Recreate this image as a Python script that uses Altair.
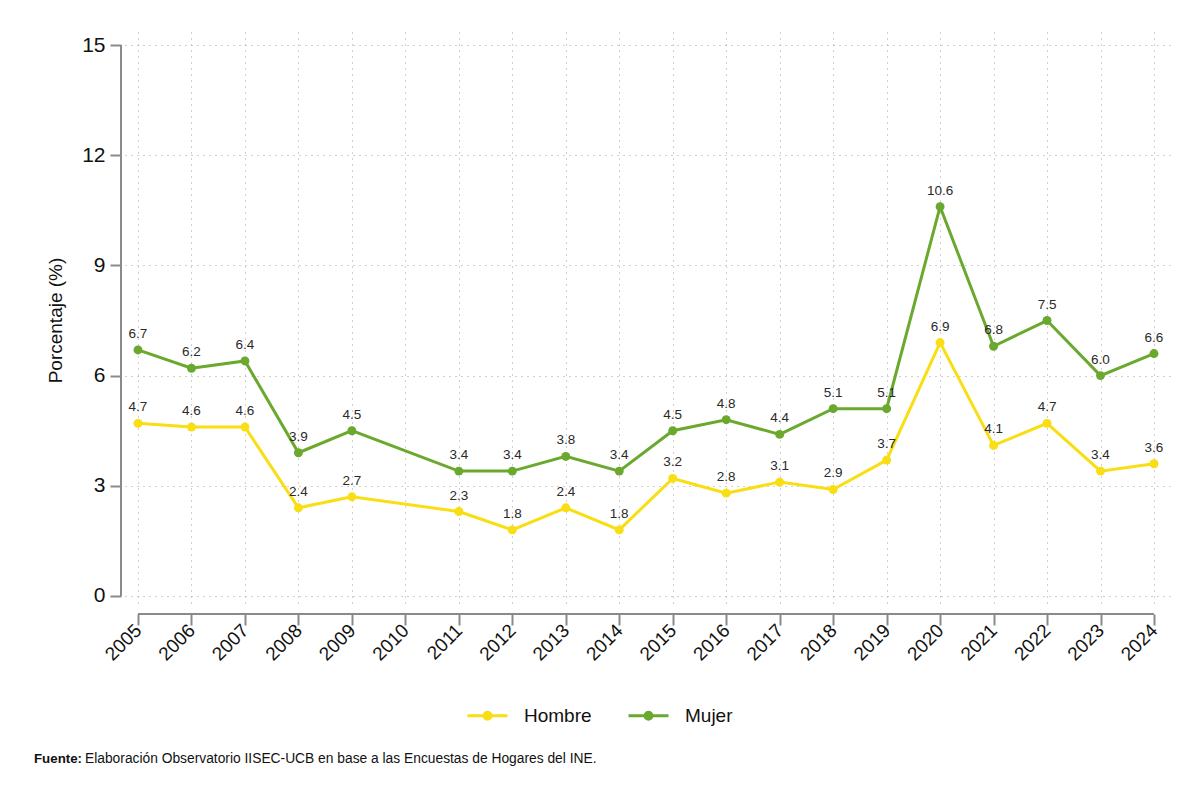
import altair as alt
import pandas as pd

# Survey years (2010 has no survey round)
years = [2005, 2006, 2007, 2008, 2009, 2011, 2012, 2013, 2014, 2015,
         2016, 2017, 2018, 2019, 2020, 2021, 2022, 2023, 2024]
hombre = [4.7, 4.6, 4.6, 2.4, 2.7, 2.3, 1.8, 2.4, 1.8, 3.2,
          2.8, 3.1, 2.9, 3.7, 6.9, 4.1, 4.7, 3.4, 3.6]
mujer = [6.7, 6.2, 6.4, 3.9, 4.5, 3.4, 3.4, 3.8, 3.4, 4.5,
         4.8, 4.4, 5.1, 5.1, 10.6, 6.8, 7.5, 6.0, 6.6]
series = ["Hombre", "Mujer"]
colors = ["#F8DE12", "#6AA92E"]
x_ticks = list(range(2005, 2025))
y_ticks = [0, 3, 6, 9, 12, 15]

df = pd.DataFrame({
    "anio": years * 2,
    "valor": hombre + mujer,
    "sexo": ["Hombre"] * len(years) + ["Mujer"] * len(years),
})
df["etiqueta"] = df["valor"].map(lambda v: f"{v:.1f}")

FONT = "Liberation Sans"
W, H = 1047, 576
AXIS_GRAY = "#8a8a8a"
GRID_GRAY = "#a0a0a0"

x_scale = alt.Scale(domain=[2004.757, 2024.337], nice=False, zero=False)
y_scale = alt.Scale(domain=[-0.327, 15.356], nice=False, zero=False)

color = alt.Color(
    "sexo:N",
    scale=alt.Scale(domain=series, range=colors),
    legend=alt.Legend(
        title=None,
        orient="none",
        legendX=341,
        legendY=662,
        direction="horizontal",
        symbolType="M-1,0H1M-0.08,0a0.08,0.08 0 1,0 0.16,0a0.08,0.08 0 1,0 -0.16,0"
                   "M-0.17,0a0.17,0.17 0 1,0 0.34,0a0.17,0.17 0 1,0 -0.34,0",
        symbolSize=1600,
        symbolStrokeWidth=3,
        labelFontSize=19,
        labelFont=FONT,
        labelColor="#111",
        labelOffset=15,
        columnPadding=30,
        padding=0,
    ),
)

x_enc = alt.X(
    "anio:Q",
    scale=x_scale,
    axis=alt.Axis(
        values=x_ticks, format="d", title=None, domain=False,
        offset=6, tickSize=11, tickWidth=2, tickColor=AXIS_GRAY,
        labelAngle=-45, labelAlign="right", labelBaseline="middle",
        labelPadding=2, labelFontSize=19, labelFont=FONT, labelColor="#111",
        grid=True, gridDash=[1, 5], gridColor=GRID_GRAY, gridWidth=1,
        labelOverlap=False,
    ),
)
y_enc = alt.Y(
    "valor:Q",
    scale=y_scale,
    axis=alt.Axis(
        values=y_ticks, title="Porcentaje (%)", domain=False,
        offset=4, tickSize=11, tickWidth=2, tickColor=AXIS_GRAY,
        labelPadding=5, labelFontSize=21, labelFont=FONT, labelColor="#111",
        titleFontSize=19, titleFont=FONT, titleFontWeight="normal",
        titleColor="#111", titlePadding=16,
        grid=True, gridDash=[1, 5], gridColor=GRID_GRAY, gridWidth=1,
    ),
)

base = alt.Chart(df)

lines = base.mark_line(strokeWidth=3).encode(x=x_enc, y=y_enc, color=color)
points = base.mark_circle(size=80, opacity=1).encode(
    x="anio:Q", y="valor:Q",
    color=alt.Color("sexo:N", scale=alt.Scale(domain=series, range=colors), legend=None),
)
labels = base.mark_text(dy=-16, fontSize=13.5, font=FONT, color="#2a2a2a").encode(
    x="anio:Q", y="valor:Q", text="etiqueta:N"
)

# Axis lines spanning only the labelled range
y_axis_line = alt.Chart(pd.DataFrame({"a": [0]})).mark_rule(
    color=AXIS_GRAY, strokeWidth=2
).encode(x=alt.value(-4), y=alt.datum(0), y2=alt.datum(15))
x_axis_line = alt.Chart(pd.DataFrame({"a": [0]})).mark_rule(
    color=AXIS_GRAY, strokeWidth=2
).encode(x=alt.datum(2005), x2=alt.datum(2024), y=alt.value(H + 6))

# Source note
fuente_b = alt.Chart(pd.DataFrame({"t": ["Fuente:"]})).mark_text(
    align="left", baseline="middle", fontSize=13.3, font=FONT,
    fontWeight="bold", color="#111"
).encode(x=alt.value(-91), y=alt.value(727), text="t:N")
fuente_t = alt.Chart(pd.DataFrame({
    "t": ["Elaboración Observatorio IISEC-UCB en base a las Encuestas de Hogares del INE."]
})).mark_text(
    align="left", baseline="middle", fontSize=13.8, font=FONT, color="#111"
).encode(x=alt.value(-40), y=alt.value(727), text="t:N")

chart = alt.layer(
    lines, points, labels, y_axis_line, x_axis_line, fuente_b, fuente_t
).properties(
    width=W, height=H,
    autosize=alt.AutoSizeParams(type="none"),
    padding={"left": 125, "top": 32, "right": 28, "bottom": 193},
    background="white",
).configure_view(stroke=None)

chart.save("out.html", embed_options={"renderer": "svg", "actions": False})
